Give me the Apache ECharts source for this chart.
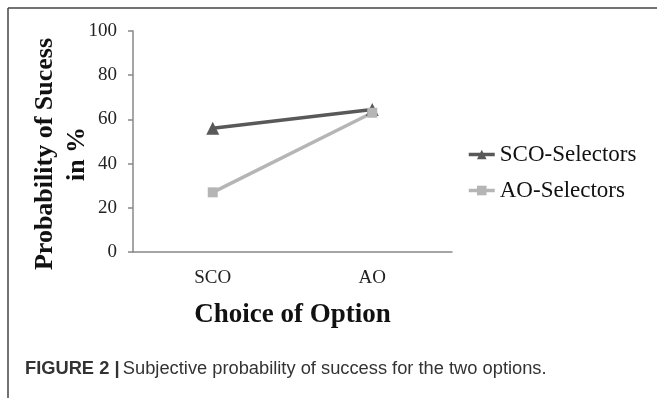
<!DOCTYPE html>
<html>
<head>
<meta charset="utf-8">
<script src="https://cdn.jsdelivr.net/npm/echarts@6/dist/echarts.min.js"></script>
<style>
html,body{margin:0;padding:0;background:#fff;}
#chart{width:657px;height:398px;}
</style>
</head>
<body>
<div id="chart"></div>
<script>
// data
const categories = ['SCO', 'AO'];
const scoSelectors = [56, 64.5];
const aoSelectors = [27, 63];
const yTicks = [0, 20, 40, 60, 80, 100];

const serif = '"Liberation Serif", "Times New Roman", serif';
const sans = '"Liberation Sans", Arial, sans-serif';

const chart = echarts.init(document.getElementById('chart'));

chart.setOption({
    backgroundColor: '#fff',
    animation: false,
    grid: {
        left: 133,
        right: 205,
        top: 31,
        bottom: 146
    },
    legend: {
        orient: 'vertical',
        left: 462,
        top: 138,
        itemGap: 13,
        itemWidth: 26,
        itemHeight: 12,
        lineStyle: {width: 3.5},
        textStyle: {fontFamily: serif, fontSize: 23, color: '#111'},
        data: ['SCO-Selectors', 'AO-Selectors']
    },
    xAxis: {
        type: 'category',
        data: categories,
        boundaryGap: true,
        axisLine: {lineStyle: {color: '#888', width: 1.5}},
        axisTick: {show: false},
        axisLabel: {fontFamily: serif, fontSize: 19, color: '#222', margin: 17},
        name: 'Choice of Option',
        nameLocation: 'middle',
        nameGap: 50,
        nameTextStyle: {fontFamily: serif, fontSize: 27, fontWeight: 'bold', color: '#111'}
    },
    yAxis: {
        type: 'value',
        min: yTicks[0],
        max: yTicks[yTicks.length - 1],
        interval: 20,
        axisLine: {show: true, lineStyle: {color: '#888', width: 1.5}},
        axisTick: {show: true, inside: false, length: 5, lineStyle: {color: '#888', width: 1.5}},
        splitLine: {show: false},
        axisLabel: {fontFamily: serif, fontSize: 19, color: '#222', margin: 16}
    },
    series: [
        {
            name: 'SCO-Selectors',
            type: 'line',
            data: scoSelectors,
            symbol: 'triangle',
            symbolSize: 13,
            lineStyle: {color: '#595959', width: 3.5},
            itemStyle: {color: '#595959'}
        },
        {
            name: 'AO-Selectors',
            type: 'line',
            data: aoSelectors,
            symbol: 'rect',
            symbolSize: 10,
            lineStyle: {color: '#b5b5b5', width: 3.5},
            itemStyle: {color: '#b5b5b5'}
        }
    ],
    graphic: [
        // frame: top and left edges
        {type: 'line', shape: {x1: 8, y1: 8, x2: 657, y2: 8}, style: {stroke: '#444', lineWidth: 1.5}},
        {type: 'line', shape: {x1: 8, y1: 8, x2: 8, y2: 398}, style: {stroke: '#444', lineWidth: 1.5}},
        {
            type: 'text',
            x: 61, y: 154,
            rotation: Math.PI / 2,
            style: {
                text: 'Probability of Sucess\nin %',
                font: 'bold 26px ' + serif,
                fill: '#111',
                align: 'center',
                verticalAlign: 'middle',
                lineHeight: 32
            }
        },
        {
            type: 'text',
            x: 25, y: 369,
            style: {
                rich: {
                    b: {font: 'bold 18.3px ' + sans, fill: '#333'},
                    n: {font: '18.3px ' + sans, fill: '#333'}
                },
                text: '{b|FIGURE 2 |} {n|Subjective probability of success for the two options.}',
                verticalAlign: 'middle'
            }
        }
    ]
});
</script>
</body>
</html>
